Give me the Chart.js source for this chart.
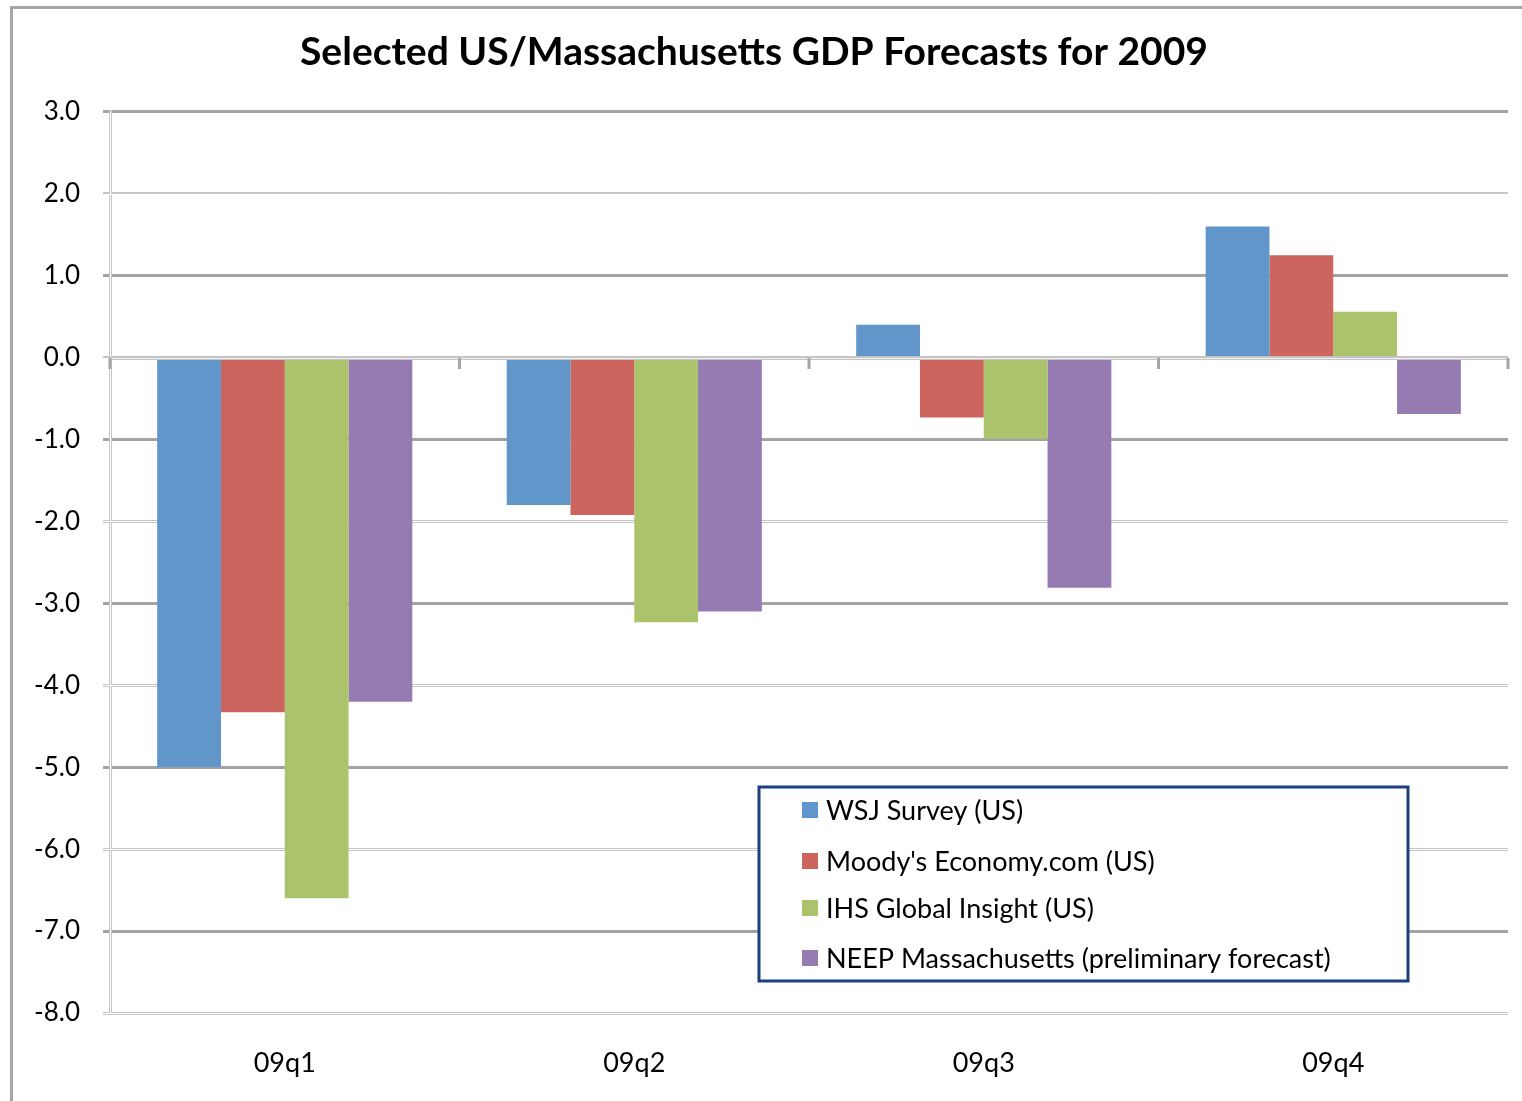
<!DOCTYPE html>
<html>
<head>
<meta charset="utf-8">
<script src="https://cdn.jsdelivr.net/npm/chart.js@4.4.1/dist/chart.umd.min.js"></script>
<style>
    html, body { margin: 0; padding: 0; background: #fff; }
    #wrap { position: relative; width: 1522px; height: 1101px; overflow: hidden; }
    #frame { position: absolute; left: 10px; top: 6px; width: 1700px; height: 1300px;
             border-left: 3px solid #a6a6a6; border-top: 3px solid #a6a6a6; }
    #gdp { position: absolute; left: 0; top: 0; }
</style>
</head>
<body>
<div id="wrap">
    <div id="frame"></div>
    <canvas id="gdp" width="1522" height="1101"></canvas>
</div>
<script>
// Data
const quarters = ['09q1', '09q2', '09q3', '09q4'];
const wsjSurvey = [-5.0, -1.8, 0.4, 1.6];
const moodysEconomy = [-4.33, -1.92, -0.73, 1.25];
const ihsGlobal = [-6.6, -3.23, -0.99, 0.56];
const neepMass = [-4.2, -3.1, -2.81, -0.69];
const seriesLabels = [
    'WSJ Survey (US)',
    "Moody's Economy.com (US)",
    'IHS Global Insight (US)',
    'NEEP Massachusetts (preliminary forecast)'
];
const yTicks = [3, 2, 1, 0, -1, -2, -3, -4, -5, -6, -7, -8];

const colors = ['#6096ca', '#cc655e', '#abc46b', '#957bb2'];
const FONT = 'Lato, "Open Sans", sans-serif';

// light gridlines are drawn "double" (white stripe in the middle)
const isOdd = (v) => Math.round(v) % 2 !== 0;

const doubleLines = {
    id: 'doubleLines',
    beforeDatasetsDraw(chart) {
        const { ctx, chartArea, scales } = chart;
        ctx.save();
        ctx.strokeStyle = '#ffffff';
        ctx.lineWidth = 1;
        yTicks.filter(v => !isOdd(v)).forEach(v => {
            const y = Math.round(scales.y.getPixelForValue(v)) + 0.5;
            ctx.beginPath();
            ctx.moveTo(chartArea.left - 7, y);
            ctx.lineTo(chartArea.right, y);
            ctx.stroke();
        });
        // y axis line
        const x = Math.round(chartArea.left) + 0.5;
        ctx.beginPath();
        ctx.moveTo(x, chartArea.top);
        ctx.lineTo(x, chartArea.bottom);
        ctx.stroke();
        ctx.restore();
    },
    afterDatasetsDraw(chart) {
        const { ctx, chartArea, scales } = chart;
        const y0 = Math.round(scales.y.getPixelForValue(0));
        ctx.save();
        // category axis at zero, over the bars
        ctx.strokeStyle = '#c4c4c4';
        ctx.lineWidth = 3;
        ctx.beginPath();
        ctx.moveTo(chartArea.left, y0 + 0.5);
        ctx.lineTo(chartArea.right, y0 + 0.5);
        ctx.stroke();
        ctx.strokeStyle = 'rgba(255,255,255,0.8)';
        ctx.lineWidth = 1;
        ctx.beginPath();
        ctx.moveTo(chartArea.left, y0 + 0.5);
        ctx.lineTo(chartArea.right, y0 + 0.5);
        ctx.stroke();
        // tick marks between categories
        const step = (chartArea.right - chartArea.left) / quarters.length;
        ctx.strokeStyle = '#a6a6a6';
        ctx.lineWidth = 3;
        for (let i = 0; i <= quarters.length; i++) {
            const x = chartArea.left + i * step;
            ctx.beginPath();
            ctx.moveTo(x, y0);
            ctx.lineTo(x, y0 + 11);
            ctx.stroke();
        }
        ctx.restore();
    }
};

const boxLegend = {
    id: 'boxLegend',
    afterDraw(chart, args, opts) {
        const ctx = chart.ctx;
        ctx.save();
        ctx.fillStyle = '#ffffff';
        ctx.fillRect(opts.x, opts.y, opts.w, opts.h);
        ctx.lineWidth = 3;
        ctx.strokeStyle = '#1d3f7c';
        ctx.strokeRect(opts.x, opts.y, opts.w, opts.h);
        ctx.font = `27px ${FONT}`;
        ctx.textBaseline = 'middle';
        chart.data.datasets.forEach((ds, i) => {
            const cy = opts.rows[i];
            ctx.fillStyle = ds.backgroundColor;
            ctx.fillRect(opts.x + 43, cy - 8, 16, 16);
            ctx.fillStyle = '#000000';
            ctx.fillText(ds.label, opts.x + 67, cy + 1);
        });
        ctx.restore();
    }
};

const seriesData = [wsjSurvey, moodysEconomy, ihsGlobal, neepMass];

new Chart(document.getElementById('gdp'), {
    type: 'bar',
    data: {
        labels: quarters,
        datasets: seriesData.map((vals, i) => ({
            label: seriesLabels[i],
            data: vals,
            backgroundColor: colors[i],
            borderWidth: 0,
            categoryPercentage: 0.73,
            barPercentage: 1.0
        }))
    },
    options: {
        responsive: false,
        animation: false,
        layout: { padding: { left: 0, right: 14, top: 0, bottom: 0 } },
        plugins: {
            legend: { display: false },
            tooltip: { enabled: false },
            title: {
                display: true,
                text: 'Selected US/Massachusetts GDP Forecasts for 2009',
                color: '#000000',
                font: { family: FONT, size: 39, weight: 'bold' },
                padding: { top: 29, bottom: 36 }
            },
            boxLegend: { x: 759, y: 787, w: 649, h: 194, rows: [810, 861, 908, 958] }
        },
        scales: {
            x: {
                grid: { display: false },
                border: { display: false },
                ticks: { color: '#000000', font: { family: FONT, size: 27 }, padding: 26 },
                afterFit: (scale) => { scale.height = 88; }
            },
            y: {
                min: -8,
                max: 3,
                afterBuildTicks: (scale) => { scale.ticks = yTicks.map(v => ({ value: v })); },
                grid: {
                    color: (c) => isOdd(c.tick.value) ? '#a3a3a3' : '#c6c6c6',
                    lineWidth: 3,
                    tickLength: 7
                },
                border: { color: '#c6c6c6', width: 3 },
                ticks: {
                    color: '#000000',
                    font: { family: FONT, size: 26 },
                    padding: 23,
                    callback: (v) => Number(v).toFixed(1)
                },
                afterFit: (scale) => { scale.width = 110; }
            }
        }
    },
    plugins: [doubleLines, boxLegend]
});
</script>
</body>
</html>
